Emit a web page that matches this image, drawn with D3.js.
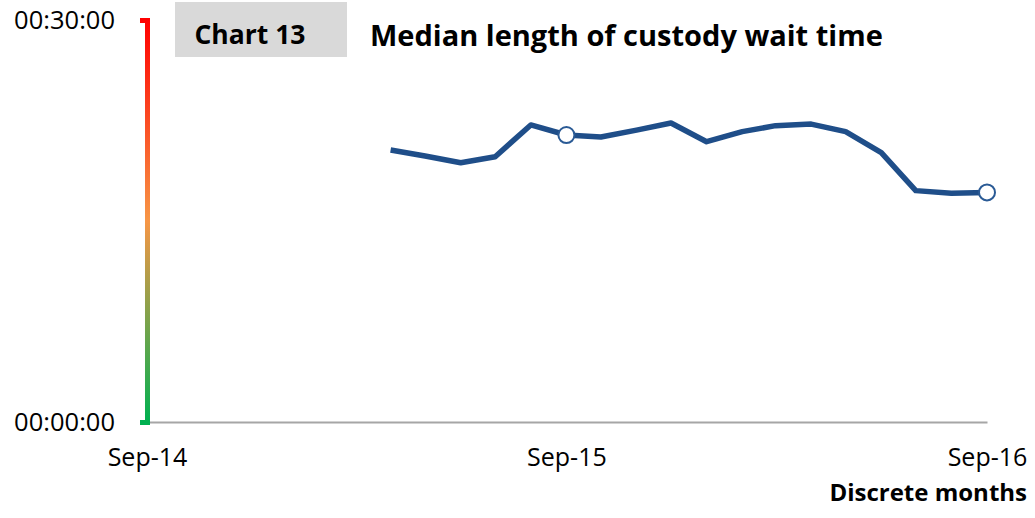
<!DOCTYPE html>
<html>
<head>
<meta charset="utf-8">
<script src="https://cdn.jsdelivr.net/npm/d3@7"></script>
<style>
  body { margin: 0; background: #fff; }
  svg text { font-family: "Open Sans", sans-serif; fill: #000; }
</style>
</head>
<body>
<div id="chart"></div>
<script>
// months with a value (discrete months)
const months = ["Apr-15", "May-15", "Jun-15", "Jul-15", "Aug-15", "Sep-15", "Oct-15", "Nov-15", "Dec-15",
    "Jan-16", "Feb-16", "Mar-16", "Apr-16", "May-16", "Jun-16", "Jul-16", "Aug-16", "Sep-16"];
// median custody wait time
const waitTimes = ["00:20:18", "00:19:51", "00:19:21", "00:19:48", "00:22:10", "00:21:25", "00:21:16", "00:21:47", "00:22:19",
    "00:20:55", "00:21:40", "00:22:07", "00:22:14", "00:21:40", "00:20:06", "00:17:16", "00:17:04", "00:17:08"];
// months that get a circle marker
const markedMonths = ["Sep-15", "Sep-16"];
const xTickLabels = ["Sep-14", "Sep-15", "Sep-16"];
const yTickLabels = ["00:00:00", "00:30:00"];

const parseMonth = d3.timeParse("%b-%y");
const toSeconds = s => {
    const p = s.split(':').map(Number);
    return p[0] * 3600 + p[1] * 60 + p[2];
};

const data = months.map((m, i) => ({ date: parseMonth(m), secs: toSeconds(waitTimes[i]), label: m }));

const width = 1035, height = 518;

const svg = d3.select('#chart')
    .append('svg')
    .attr('width', width)
    .attr('height', height);

const x = d3.scaleTime()
    .domain([parseMonth(xTickLabels[0]), parseMonth(xTickLabels[2])])
    .range([147, 987]);

const y = d3.scaleLinear()
    .domain([toSeconds(yTickLabels[0]), toSeconds(yTickLabels[1])])
    .range([422, 20]);

// gradient for y axis (red -> orange -> green)
const grad = svg.append('defs').append('linearGradient')
    .attr('id', 'axisGrad')
    .attr('gradientUnits', 'userSpaceOnUse')
    .attr('x1', 0).attr('x2', 0)
    .attr('y1', y.range()[1]).attr('y2', y.range()[0]);
grad.append('stop').attr('offset', '0%').attr('stop-color', '#ff0000');
grad.append('stop').attr('offset', '50%').attr('stop-color', '#f79646');
grad.append('stop').attr('offset', '100%').attr('stop-color', '#00b050');

// x axis
const xAxis = svg.append('g')
    .attr('transform', `translate(0,${y.range()[0]})`)
    .call(d3.axisBottom(x)
        .tickValues(xTickLabels.map(parseMonth))
        .tickSize(0)
        .tickPadding(26)
        .tickFormat(d3.timeFormat('%b-%y')));
xAxis.select('.domain').attr('stroke', '#a6a6a6').attr('stroke-width', 2);
xAxis.selectAll('text').attr('font-size', '25px').attr('fill', '#000');

// y axis
const yAxis = svg.append('g')
    .attr('transform', `translate(${x.range()[0]},0)`)
    .call(d3.axisLeft(y)
        .tickValues(yTickLabels.map(toSeconds))
        .tickSize(0)
        .tickSizeOuter(7)
        .tickPadding(32)
        .tickFormat((d, i) => yTickLabels[i]));
yAxis.select('.domain')
    .attr('stroke', 'url(#axisGrad)')
    .attr('stroke-width', 5)
    .attr('fill', 'none');
yAxis.selectAll('text').attr('font-size', '25.5px').attr('fill', '#000');

// line
const line = d3.line()
    .x(d => x(d.date))
    .y(d => y(d.secs));

svg.append('path')
    .datum(data)
    .attr('fill', 'none')
    .attr('stroke', '#1f4e89')
    .attr('stroke-width', 5.5)
    .attr('stroke-linejoin', 'round')
    .attr('d', line);

svg.selectAll('circle.marker')
    .data(data.filter(d => markedMonths.includes(d.label)))
    .enter()
    .append('circle')
    .attr('class', 'marker')
    .attr('cx', d => x(d.date))
    .attr('cy', d => y(d.secs))
    .attr('r', 8)
    .attr('fill', '#fff')
    .attr('stroke', '#2a5a95')
    .attr('stroke-width', 2);

// title box
svg.append('rect')
    .attr('x', 175).attr('y', 2)
    .attr('width', 172).attr('height', 55)
    .attr('fill', '#d9d9d9');

svg.append('text')
    .attr('x', 250).attr('y', 44)
    .attr('text-anchor', 'middle')
    .attr('font-size', '26.5px')
    .attr('font-weight', 'bold')
    .text('Chart 13');

svg.append('text')
    .attr('x', 370).attr('y', 46)
    .attr('font-size', '29px')
    .attr('font-weight', 'bold')
    .text('Median length of custody wait time');

svg.append('text')
    .attr('x', 1027).attr('y', 501)
    .attr('text-anchor', 'end')
    .attr('font-size', '24px')
    .attr('font-weight', 'bold')
    .text('Discrete months');
</script>
</body>
</html>
